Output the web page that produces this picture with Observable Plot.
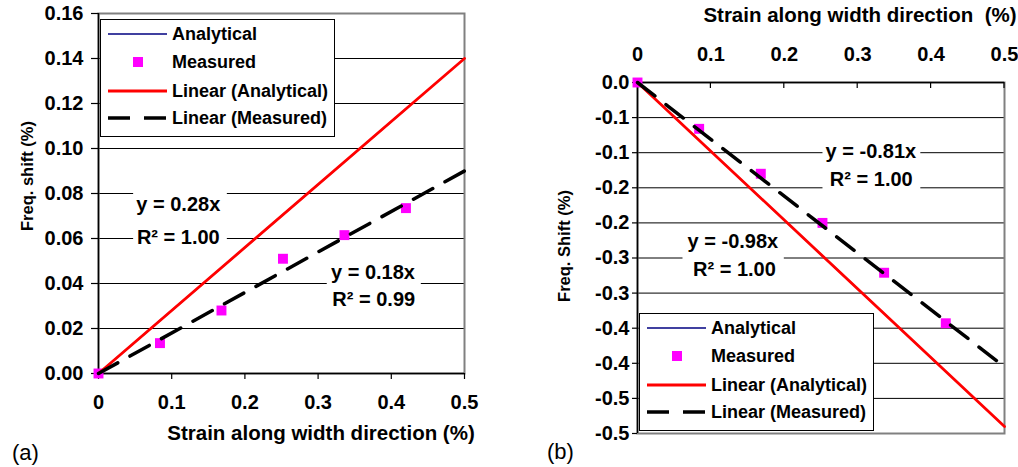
<!DOCTYPE html>
<html><head><meta charset="utf-8">
<script src="https://cdn.jsdelivr.net/npm/d3@7"></script>
<script src="https://cdn.jsdelivr.net/npm/@observablehq/plot@0.6"></script>
<style>
body{margin:0;background:#fff;}
#wrap{position:relative;width:1018px;height:467px;overflow:hidden;}
#pa{position:absolute;left:0;top:0;}
#pb{position:absolute;left:540px;top:0;}
</style></head><body><div id="wrap"><div id="pa"></div><div id="pb"></div></div>
<script>
// ---- data ----
const strain = [0, 0.084, 0.168, 0.252, 0.336, 0.42];
const analyticalA = [0, 0.0235, 0.047, 0.0706, 0.094, 0.1176];
const measuredA = [0, 0.0135, 0.028, 0.051, 0.0615, 0.0735];
const analyticalB = [0, -0.0823, -0.1646, -0.247, -0.329, -0.4116];
const measuredB = [0, -0.066, -0.130, -0.200, -0.271, -0.343];
const trendX = [0, 0.5];
const trendAnalyticalA = [0, 0.14];
const trendMeasuredA = [0, 0.09];
const trendAnalyticalB = [0, -0.49];
const trendMeasuredB = [0, -0.405];
const xTicks = [0, 0.1, 0.2, 0.3, 0.4, 0.5];
const xTickLabels = ["0", "0.1", "0.2", "0.3", "0.4", "0.5"];
const yTicksA = [0, 0.02, 0.04, 0.06, 0.08, 0.10, 0.12, 0.14, 0.16];
const yTickLabelsA = ["0.00", "0.02", "0.04", "0.06", "0.08", "0.10", "0.12", "0.14", "0.16"];
const yTicksB = [0, -0.05, -0.1, -0.15, -0.2, -0.25, -0.3, -0.35, -0.4, -0.45, -0.5];
const yTickLabelsB = ["0.0", "-0.1", "-0.1", "-0.2", "-0.2", "-0.3", "-0.3", "-0.4", "-0.4", "-0.5", "-0.5"];
const seriesNames = ["Analytical", "Measured", "Linear (Analytical)", "Linear (Measured)"];
const eqTextsA = ["y = 0.28x", "R² = 1.00", "y = 0.18x", "R² = 0.99"];
const eqTextsB = ["y = -0.81x", "R² = 1.00", "y = -0.98x", "R² = 1.00"];
const xTitleA = "Strain along width direction (%)";
const xTitleB = "Strain along width direction  (%)";
const yTitleA = "Freq. shift (%)";
const yTitleB = "Freq. Shift (%)";

// ---- annotation placement (data coordinates) ----
const eqPosA = [[0.109, 0.0752], [0.109, 0.0606], [0.375, 0.045], [0.376, 0.033]];
const eqBoxA = [[0.048, 0.176, 0.055, 0.083], [0.3125, 0.441, 0.0272, 0.0494]];
const eqPosB = [[0.318, -0.0987], [0.3185, -0.139], [0.130, -0.227], [0.132, -0.267]];
const eqBoxB = [[0.2527, 0.386, -0.157, -0.083], [0.062, 0.2, -0.285, -0.214]];

const FONT = '"Liberation Sans", Arial, Helvetica, sans-serif';
const lab = (ticks, labels) => d => labels[ticks.findIndex(t => Math.abs(t - d) < 1e-9)];

function build(cfg) {
  const pts = strain.map((s, i) => ({x: s, an: cfg.analytical[i], me: cfg.measured[i]}));
  const tr = trendX.map((s, i) => ({x: s, an: cfg.trendAn[i], me: cfg.trendMe[i]}));
  const eq = cfg.eqTexts.map((t, i) => ({x: cfg.eqPos[i][0], y: cfg.eqPos[i][1], text: t}));
  const boxes = cfg.eqBox.map(b => ({x1: b[0], x2: b[1], y1: b[2], y2: b[3]}));
  return Plot.plot({
    width: cfg.width, height: 467,
    marginLeft: cfg.ml, marginRight: cfg.mr, marginTop: cfg.mt, marginBottom: cfg.mb,
    style: {fontFamily: FONT, fontSize: "20px", fontWeight: "bold", color: "#000", background: "#fff", overflow: "visible"},
    x: {domain: [0, 0.5]},
    y: {domain: cfg.ydomain},
    marks: [
      Plot.gridY(cfg.yTicks.slice(1, -1), {stroke: "#000", strokeOpacity: 1, strokeWidth: 1}),
      Plot.frame({stroke: "#808080", strokeWidth: 2}),
      Plot.rect(boxes, {x1: "x1", x2: "x2", y1: "y1", y2: "y2", fill: "#fff"}),
      Plot.ruleY([0], {stroke: "#000", strokeWidth: 1.5}),
      Plot.ruleX([0], {stroke: "#000", strokeWidth: 1.5}),
      Plot.axisY({ticks: cfg.yTicks, tickFormat: lab(cfg.yTicks, cfg.yLabels), tickSize: cfg.yTickSize, tickPadding: cfg.yTickPad, label: null, strokeWidth: 1.2}),
      Plot.axisX({anchor: cfg.xAnchor, ticks: xTicks, tickFormat: lab(xTicks, xTickLabels), tickSize: cfg.xTickSize, tickPadding: cfg.xTickPad, label: null, strokeWidth: 1.2}),
      Plot.line(pts, {x: "x", y: "an", stroke: "#000080", strokeWidth: 1.5}),
      Plot.dot(pts, {x: "x", y: "me", symbol: "square", r: 5.6, fill: "#ff00ff", stroke: "none"}),
      Plot.line(tr, {x: "x", y: "an", stroke: "#ff0000", strokeWidth: 2.8}),
      Plot.line(tr, {x: "x", y: "me", stroke: "#000", strokeWidth: 3.5, strokeDasharray: "22,14"}),
      Plot.text(eq, {x: "x", y: "y", text: "text", fontSize: 20, fontWeight: "bold", fill: "#000"})
    ]
  });
}

function legend(svg, left, top) {
  const g = svg.append("g").attr("transform", `translate(${left},${top})`);
  g.append("rect").attr("x", 0.5).attr("y", 0.5).attr("width", 234).attr("height", 117)
    .attr("fill", "#fff").attr("stroke", "#000").attr("stroke-width", 1);
  const rows = [15, 43, 72, 99];
  g.append("line").attr("x1", 8).attr("x2", 67).attr("y1", rows[0]).attr("y2", rows[0]).attr("stroke", "#000080").attr("stroke-width", 1.5);
  g.append("rect").attr("x", 33).attr("y", rows[1] - 5).attr("width", 10).attr("height", 10).attr("fill", "#ff00ff");
  g.append("line").attr("x1", 8).attr("x2", 67).attr("y1", rows[2]).attr("y2", rows[2]).attr("stroke", "#ff0000").attr("stroke-width", 2.8);
  g.append("line").attr("x1", 8).attr("x2", 67).attr("y1", rows[3]).attr("y2", rows[3]).attr("stroke", "#000").attr("stroke-width", 3.5).attr("stroke-dasharray", "22,14");
  seriesNames.forEach((n, i) => {
    g.append("text").attr("x", 72).attr("y", rows[i]).attr("dy", "0.35em").attr("text-anchor", "start")
      .attr("font-size", 18).attr("font-weight", "bold").attr("font-family", FONT).attr("fill", "#000").text(n);
  });
}

function addText(svg, x, y, txt, opts) {
  const t = svg.append("text").attr("x", x).attr("y", y).attr("dy", "0.35em")
    .attr("font-family", FONT).attr("font-size", opts.size).attr("font-weight", opts.weight || "bold")
    .attr("text-anchor", opts.anchor || "middle").attr("fill", "#000").text(txt);
  if (opts.rotate) t.attr("transform", `rotate(-90,${x},${y})`);
  return t;
}

// ---- panel (a) ----
const chartA = build({
  width: 520, ml: 98, mr: 56, mt: 13, mb: 94, ydomain: [0, 0.16],
  analytical: analyticalA, measured: measuredA, trendAn: trendAnalyticalA, trendMe: trendMeasuredA,
  yTicks: yTicksA, yLabels: yTickLabelsA, yTickSize: 7, yTickPad: 8,
  xAnchor: "bottom", xTickSize: 6, xTickPad: 15,
  eqTexts: eqTextsA, eqPos: eqPosA, eqBox: eqBoxA
});
document.getElementById("pa").appendChild(chartA);
const sA = d3.select(chartA);
legend(sA, 100, 19);
addText(sA, 321, 433, xTitleA, {size: 20.5});
addText(sA, 27, 176, yTitleA, {size: 16.5, rotate: true});
addText(sA, 12, 452, "(a)", {size: 22, weight: "normal", anchor: "start"});

// ---- panel (b) ----
const chartB = build({
  width: 478, ml: 97, mr: 14, mt: 82, mb: 34, ydomain: [-0.5, 0],
  analytical: analyticalB, measured: measuredB, trendAn: trendAnalyticalB, trendMe: trendMeasuredB,
  yTicks: yTicksB, yLabels: yTickLabelsB, yTickSize: 5, yTickPad: 3,
  xAnchor: "top", xTickSize: 0, xTickPad: 22,
  eqTexts: eqTextsB, eqPos: eqPosB, eqBox: eqBoxB
});
document.getElementById("pb").appendChild(chartB);
const sB = d3.select(chartB);
const xsB = chartB.scale("x");
const y0B = chartB.scale("y").apply(0);
xTicks.slice(1).forEach(t => {
  const px = xsB.apply(t);
  sB.append("line").attr("x1", px).attr("x2", px).attr("y1", y0B).attr("y2", y0B + 6).attr("stroke", "#000").attr("stroke-width", 1.2);
});
legend(sB, 99, 313);
addText(sB, 320, 15, xTitleB, {size: 20.5});
addText(sB, 24, 246, yTitleB, {size: 16.5, rotate: true});
addText(sB, 7, 451, "(b)", {size: 22, weight: "normal", anchor: "start"});
</script></body></html>
